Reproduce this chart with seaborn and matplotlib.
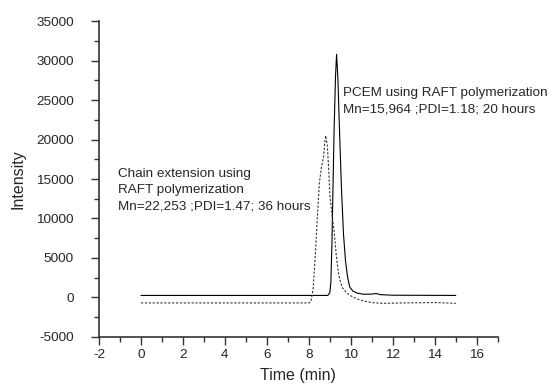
import matplotlib
matplotlib.use("Agg")
import matplotlib.pyplot as plt
import seaborn as sns
import pandas as pd
from matplotlib.ticker import MultipleLocator

# PCEM (solid)
pcem_t = [0, 4, 8.9, 9.0, 9.05, 9.1, 9.15, 9.2, 9.27, 9.32, 9.38, 9.45, 9.55, 9.65, 9.75, 9.85, 9.95, 10.1, 10.3, 10.6, 11.0, 11.2, 11.4, 12.0, 15.0]
pcem_i = [250, 250, 250, 600, 2000, 7000, 14000, 21000, 28000, 30800, 28000, 22000, 14000, 8000, 4500, 2500, 1300, 800, 550, 400, 420, 500, 350, 280, 250]

# Chain extension (dashed)
ext_t = [0, 4, 8.0, 8.1, 8.2, 8.3, 8.4, 8.5, 8.6, 8.7, 8.75, 8.8, 8.88, 8.95, 9.0, 9.1, 9.2, 9.3, 9.4, 9.5, 9.6, 9.8, 10.0, 10.3, 10.7, 11.0, 11.5, 12.5, 14.0, 15.0]
ext_i = [-700, -700, -700, -500, 1000, 5000, 10000, 14500, 16500, 17800, 19500, 20500, 19200, 16000, 13000, 10500, 8500, 5500, 3200, 2000, 1200, 600, 200, -200, -500, -650, -750, -700, -650, -750]

sns.set_style("ticks")
plt.rcParams['font.family'] = ['Liberation Sans', 'DejaVu Sans']
plt.rcParams['axes.unicode_minus'] = False

fig = plt.figure(figsize=(5.5, 3.85), dpi=100)
ax = fig.add_axes([0.18, 0.125, 0.725, 0.82])

df1 = pd.DataFrame({"t": pcem_t, "i": pcem_i})
df2 = pd.DataFrame({"t": ext_t, "i": ext_i})
sns.lineplot(data=df1, x="t", y="i", ax=ax, color="black", lw=0.8)
sns.lineplot(data=df2, x="t", y="i", ax=ax, color="#333333", lw=0.8, linestyle=(0, (2, 1.5)))

ax.set_xlim(-2, 17)
ax.set_ylim(-5000, 35000)
ax.xaxis.set_major_locator(MultipleLocator(2))
ax.xaxis.set_minor_locator(MultipleLocator(1))
ax.yaxis.set_major_locator(MultipleLocator(5000))
ax.yaxis.set_minor_locator(MultipleLocator(2500))
for s in ["top", "right"]:
    ax.spines[s].set_visible(False)
for s in ["left", "bottom"]:
    ax.spines[s].set_color("#333333")
    ax.spines[s].set_linewidth(1.2)
ax.tick_params(which="major", direction="out", length=6, width=1, color="#333333", labelsize=9.7)
ax.tick_params(which="minor", direction="out", length=3.5, width=1, color="#333333")
ax.tick_params(axis="y", which="major", pad=12)
ax.tick_params(axis="x", which="major", pad=3)

ax.set_xlabel("Time (min)", fontsize=11.5, labelpad=5)
ax.set_ylabel("Intensity", fontsize=11.5, labelpad=8)

ax.text(9.65, 26600, "PCEM using RAFT polymerization\nMn=15,964 ;PDI=1.18; 20 hours",
        fontsize=9.7, va="top", ha="left", linespacing=1.45)
ax.text(-1.1, 16400, "Chain extension using\nRAFT polymerization\nMn=22,253 ;PDI=1.47; 36 hours",
        fontsize=9.7, va="top", ha="left", linespacing=1.45)

fig.savefig("out.png", dpi=100)
